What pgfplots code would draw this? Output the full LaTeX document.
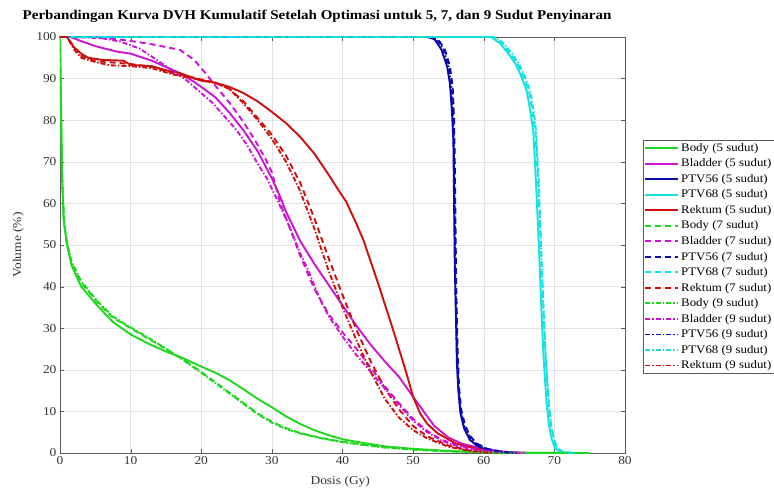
\documentclass[border=0pt]{standalone}
\usepackage{pgfplots}
\pgfplotsset{compat=1.18}
\usepackage{fontspec}
\setmainfont{Liberation Serif}[FakeStretch=1.12]

\definecolor{cbody}{RGB}{30,215,30}
\definecolor{cblad}{RGB}{205,20,210}
\definecolor{cptva}{RGB}{10,10,175}
\definecolor{cptvb}{RGB}{20,225,225}
\definecolor{crekt}{RGB}{205,15,15}
\definecolor{axgray}{RGB}{90,90,90}

\tikzset{
  s5/.style={solid, line width=1.9pt},
  s7/.style={dash pattern=on 6pt off 4pt, line width=1.9pt},
  s9/.style={dash pattern=on 5pt off 2pt on 1.5pt off 2pt, line width=1.9pt},
}

\begin{document}
\begin{tikzpicture}
\path[use as bounding box] (-60pt,-40pt) rectangle (714pt,453pt);
\begin{axis}[
    scale only axis,
    width=565pt, height=416pt,
    xmin=0, xmax=80, ymin=0, ymax=100,
    xtick={0,10,...,80}, ytick={0,10,...,100},
    tick align=inside,
    axis line style={axgray},
    tick style={axgray},
    grid=major,
    major grid style={line width=.4pt, draw=gray!22},
    /pgf/number format/assume math mode=true,
    ticklabel style={font=\fontsize{12}{14}\selectfont, text=black!80},
    title={Perbandingan Kurva DVH Kumulatif Setelah Optimasi untuk 5, 7, dan 9 Sudut Penyinaran},
    title style={at={(axis description cs:0.455,1.012)}, anchor=south, font=\fontsize{13.4}{15}\selectfont\bfseries},
    xlabel={Dosis (Gy)},
    ylabel={Volume (\%)},
    xlabel style={at={(axis description cs:0.496,-0.07)}, anchor=center, font=\fontsize{12}{14}\selectfont, text=black!80},
    ylabel style={at={(axis description cs:-0.074,0.5)}, anchor=center, font=\fontsize{12}{14}\selectfont, text=black!80},
    legend style={at={(1.032,0.752)}, anchor=north west, draw=axgray, inner sep=1pt,
      font=\fontsize{11.5}{13}\selectfont, row sep=2.05pt, cells={anchor=west}},
    legend image code/.code={\draw[#1] (0pt,0pt) -- (33pt,0pt);},
]
% ---------- 5 sudut ----------
\addplot[cbody, s5] coordinates {
 (0,100) (0.1,90) (0.25,70) (0.5,56) (1,50) (1.65,45) (3,40) (5.4,35.2) (7.5,31.5)
 (10,28.5) (12.5,26.3) (15,24.4) (17.4,22.8) (20,20.8) (22,19.3) (24,17.5) (26,15.3)
 (28,13) (30,11) (32,8.8) (34,7) (36,5.5) (38,4.3) (40,3.3) (43,2.4) (46,1.6) (50,1)
 (55,0.5) (60,0.2) (65,0.05) (75,0)};
\addlegendentry{Body (5 sudut)}
\addplot[cblad, s5] coordinates {
 (0,100) (1.5,100) (3,99) (5,97.8) (8,96.5) (10,96) (13,94.3) (15,92.8) (17,91.3)
 (19,89.2) (20,88) (22,85.5) (24,81.8) (26,77.5) (28,72.5) (30,66) (31.2,61.5) (32,58)
 (34,51) (36,45.5) (38,40.5) (40,35.5) (42,30.5) (44,26) (46,22) (48,18.3) (50,13.5)
 (52,8.8) (53,6.5) (55,3.7) (57,2.2) (60,1) (63,0.3) (66,0)};
\addlegendentry{Bladder (5 sudut)}
\addplot[cptva, s5] coordinates {
 (0,100) (52,100) (53,99.5) (54,97) (54.8,93) (55.2,89) (55.5,82) (55.7,75) (55.8,60)
 (55.9,45) (56.1,30) (56.2,21.6) (56.4,15) (56.7,9.6) (57.2,6) (58,3.2) (59,1.8)
 (60.4,0.7) (62,0.2) (64,0)};
\addlegendentry{PTV56 (5 sudut)}
\addplot[cptvb, s5] coordinates {
 (0,100) (61,100) (62.3,98.5) (63.5,96) (64.5,93.5) (65.2,91) (66.1,87) (66.6,82)
 (67,77.6) (67.4,65) (67.8,50) (68.2,33) (68.5,22) (68.9,12) (69.2,7.1) (69.6,3.5)
 (70.1,1.1) (71,0.2) (72.5,0)};
\addlegendentry{PTV68 (5 sudut)}
\addplot[crekt, s5] coordinates {
 (0,100) (1,100) (2,97.5) (3,96) (4,95) (6,94.5) (9,94.3) (10,93.3) (13,93) (15,92)
 (17,91.3) (20,89.5) (22,89) (24,88) (26,86.5) (28,84.5) (30,82) (32,79.3) (34,76)
 (36,72) (38,67) (39.5,63) (40.5,60.5) (42,55) (43,51) (45,41) (47,30.5) (49,19.5)
 (50,13.5) (51,9.5) (52,7) (53.5,4.7) (56,2.3) (59,1) (62,0)};
\addlegendentry{Rektum (5 sudut)}
% ---------- 7 sudut ----------
\addplot[cbody, s7] coordinates {
 (0,100) (0.1,85) (0.3,65) (0.6,55) (1,50) (1.65,45.5) (3,41) (5.4,36) (7.5,32.5)
 (10,30) (12.5,27.5) (15,25) (17.4,22.5) (20,19.5) (22,17) (24,14.5) (26,12) (28,9.5)
 (30,7.5) (32,6) (34,4.8) (36,4) (38,3.3) (40,2.7) (43,2) (46,1.4) (50,0.8) (55,0.4)
 (60,0.15) (65,0.05) (75,0)};
\addlegendentry{Body (7 sudut)}
\addplot[cblad, s7] coordinates {
 (0,100) (4,100) (8,99.5) (11,98.8) (13.2,98.2) (17,96.9) (19,94.5) (20.5,91.5) (22,88.3)
 (24,84.2) (26,79.5) (27.5,75.5) (29,71) (30,67.5) (31.2,60) (32,56.5) (34,47.5) (36,39.5)
 (38,33.5) (40,29) (42,25) (44,20.5) (46,16) (48,12) (50,8.2) (52,5.3) (54,3.2)
 (56,2) (59,0.8) (63,0.2) (66,0)};
\addlegendentry{Bladder (7 sudut)}
\addplot[cptva, s7] coordinates {
 (0,100) (52.5,100) (53.5,99.5) (54.5,97) (55.2,93) (55.6,88) (55.8,80) (55.9,70)
 (56,55) (56.1,40) (56.3,25) (56.5,16) (56.8,10.5) (57.3,7) (58,4.2) (59,2.3)
 (60.5,1) (62.5,0.3) (65,0)};
\addlegendentry{PTV56 (7 sudut)}
\addplot[cptvb, s7] coordinates {
 (0,100) (61.3,100) (62.6,98.5) (63.8,96) (64.8,93.5) (65.5,91) (66.4,87) (66.9,82)
 (67.3,77.6) (67.7,65) (68.1,50) (68.5,33) (68.8,22) (69.2,12) (69.5,7.1) (69.9,3.5)
 (70.4,1.1) (71.3,0.2) (72.8,0)};
\addlegendentry{PTV68 (7 sudut)}
\addplot[crekt, s7] coordinates {
 (0,100) (1,100) (2,97.5) (3,95.5) (5,94.2) (8,93.8) (10,93.5) (13,92.8) (16,91.3)
 (19,90.2) (22,89) (24,87.5) (26,84.5) (28,80.5) (30,76.5) (32,71.5) (34,65) (36,56.5) (38,47)
 (40,38) (42,29.5) (44,22) (46,15.5) (48,10.5) (50,6.5) (52,4) (55,1.8) (58,0.6) (62,0)};
\addlegendentry{Rektum (7 sudut)}
% ---------- 9 sudut ----------
\addplot[cbody, s9] coordinates {
 (0,100) (0.1,86) (0.3,66) (0.6,55.5) (1,50.5) (1.65,46) (3,41.3) (5.4,36.3) (7.5,32.8)
 (10,30.2) (12.5,27.7) (15,25.1) (17.4,22.4) (20,19.3) (22,16.8) (24,14.3) (26,11.8)
 (28,9.3) (30,7.3) (32,5.8) (34,4.7) (36,3.9) (38,3.2) (40,2.6) (43,1.9) (46,1.3)
 (50,0.8) (55,0.4) (60,0.15) (65,0.05) (75,0)};
\addlegendentry{Body (9 sudut)}
\addplot[cblad, s9] coordinates {
 (0,100) (2,100) (6,99.7) (8.5,98.9) (11.3,97.2) (13.7,94.5) (16,91.8) (18,89.5)
 (20,86.5) (21.7,84) (23.5,80.5) (25,77.6) (26.5,74) (28,69.5) (29.3,66) (31,60) (32.6,54) (34,48)
 (35,44.5) (36.8,37) (38,33) (40,28) (42,23.5) (44,19.5) (46,15.5) (48,11.5) (50,7.8)
 (52,5) (54,3) (56,1.8) (59,0.7) (63,0.2) (66,0)};
\addlegendentry{Bladder (9 sudut)}
\addplot[cptva, s9] coordinates {
 (0,100) (52.3,100) (53.3,99.5) (54.3,97) (55,93) (55.4,88.5) (55.7,80) (55.8,68)
 (55.9,55) (56,40) (56.2,25) (56.4,16) (56.7,10) (57.2,6.5) (58,3.8) (59,2.1)
 (60.5,0.9) (62.3,0.3) (64.5,0)};
\addlegendentry{PTV56 (9 sudut)}
\addplot[cptvb, s9] coordinates {
 (0,100) (61.5,100) (62.8,98.5) (64,96) (65,93.5) (65.7,91) (66.6,87) (67.1,82)
 (67.4,77.6) (67.8,65) (68.1,50) (68.5,33) (68.8,22) (69.2,12) (69.5,7.1) (69.9,3.5)
 (70.4,1.1) (71.3,0.2) (72.8,0)};
\addlegendentry{PTV68 (9 sudut)}
\addplot[crekt, s9] coordinates {
 (0,100) (1,100) (2,97) (3,95) (5,94) (7,93.2) (10,93) (13,92.5) (16,91) (19,90)
 (22,89) (24,87.5) (26,84) (28,80) (30,75.5) (32,70) (34,63) (36,54) (38,44) (40,35)
 (42,27) (44,19.5) (46,13) (48,8.5) (50,5.5) (52,3.5) (55,1.5) (58,0.5) (61,0)};
\addlegendentry{Rektum (9 sudut)}
\end{axis}
\end{tikzpicture}
\end{document}
